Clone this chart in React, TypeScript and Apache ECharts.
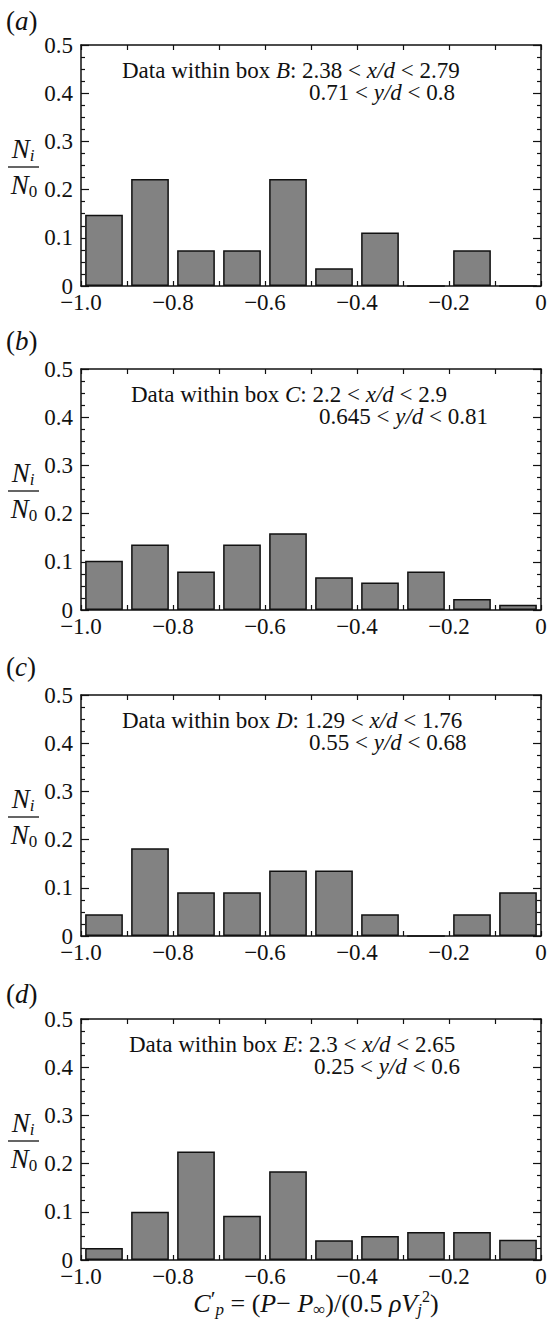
import React, { useEffect, useRef } from "react";
import * as echarts from "echarts";

// Histogram bins of C'_p (bin centres, width 0.1 from -1.0 to 0)
const binCentres = ["-0.95", "-0.85", "-0.75", "-0.65", "-0.55", "-0.45", "-0.35", "-0.25", "-0.15", "-0.05"];

// N_i / N_0 per bin for each measurement box
const boxB = [0.148, 0.222, 0.074, 0.074, 0.222, 0.037, 0.111, 0, 0.074, 0];
const boxC = [0.102, 0.136, 0.08, 0.136, 0.159, 0.068, 0.057, 0.08, 0.023, 0.011];
const boxD = [0.045, 0.182, 0.091, 0.091, 0.136, 0.136, 0.045, 0, 0.045, 0.091];
const boxE = [0.025, 0.1, 0.225, 0.092, 0.184, 0.041, 0.05, 0.058, 0.058, 0.042];

const panelLetters = ["a", "b", "c", "d"];
const boxNames = ["B", "C", "D", "E"];
const xdRanges = [["2.38", "2.79"], ["2.2", "2.9"], ["1.29", "1.76"], ["2.3", "2.65"]];
const ydRanges = [["0.71", "0.8"], ["0.645", "0.81"], ["0.55", "0.68"], ["0.25", "0.6"]];

// Layout (pixels)
const GRID_LEFT = 81;
const GRID_WIDTH = 460;
const GRID_HEIGHT = 241;
const gridTops = [45, 369, 695, 1019];
const letterY = [21, 341, 667, 994];
const noteLeft1 = [122, 131, 122, 129];
const noteLeft2 = [309, 319, 309, 314];

const FONT = '"Liberation Serif", "Times New Roman", serif';
const INK = "#111";
const TICK_FONT = 23;

const fmtX = (v: number) => {
  if (Math.abs(v) < 1e-9) return "0";
  return "\u2212" + Math.abs(v).toFixed(1);
};
const fmtY = (v: number) => (Math.abs(v) < 1e-9 ? "0" : v.toFixed(1));

export default function App() {
  const ref = useRef<HTMLDivElement>(null);

  useEffect(() => {
    if (!ref.current) return;
    const chart = echarts.init(ref.current, undefined, { renderer: "svg" });
    const datasets = [boxB, boxC, boxD, boxE];

    const grids: any[] = [];
    const xAxes: any[] = [];
    const yAxes: any[] = [];
    const series: any[] = [];
    const graphics: any[] = [];

    const lineStyle = { color: INK, width: 1.5 };
    const tickStyle = { color: INK, width: 1.2 };

    datasets.forEach((values, i) => {
      const top = gridTops[i];
      grids.push({ left: GRID_LEFT, top, width: GRID_WIDTH, height: GRID_HEIGHT, containLabel: false });

      // hidden category axis carrying the bins
      xAxes.push({
        type: "category",
        gridIndex: i,
        data: binCentres,
        boundaryGap: true,
        show: false,
      });
      // visible value axis, bottom
      xAxes.push({
        type: "value",
        gridIndex: i,
        position: "bottom",
        min: -1,
        max: 0,
        interval: 0.2,
        axisLine: { show: true, onZero: false, lineStyle },
        axisTick: { show: true, inside: true, length: 5, lineStyle: tickStyle },
        minorTick: { show: true, splitNumber: 2, length: 5, lineStyle: tickStyle },
        splitLine: { show: false },
        axisLabel: {
          show: true,
          formatter: fmtX,
          fontFamily: FONT,
          fontSize: TICK_FONT,
          lineHeight: 16,
          color: INK,
          margin: 8,
          showMinLabel: true,
          showMaxLabel: true,
        },
      });
      // frame, top
      xAxes.push({
        type: "value",
        gridIndex: i,
        position: "top",
        min: -1,
        max: 0,
        interval: 0.2,
        axisLine: { show: true, onZero: false, lineStyle },
        axisTick: { show: true, inside: true, length: 5, lineStyle: tickStyle },
        minorTick: { show: true, splitNumber: 2, length: 5, lineStyle: tickStyle },
        splitLine: { show: false },
        axisLabel: { show: false },
      });

      const yCommon = {
        type: "value",
        gridIndex: i,
        min: 0,
        max: 0.5,
        interval: 0.1,
        axisLine: { show: true, onZero: false, lineStyle },
        axisTick: { show: true, inside: true, length: 8, lineStyle: tickStyle },
        minorTick: { show: true, splitNumber: 4, length: 4, lineStyle: tickStyle },
        splitLine: { show: false },
      };
      yAxes.push({
        ...yCommon,
        position: "left",
        axisLabel: {
          show: true,
          formatter: fmtY,
          fontFamily: FONT,
          fontSize: TICK_FONT,
          lineHeight: 16,
          color: INK,
          margin: 8,
        },
      });
      yAxes.push({ ...yCommon, position: "right", axisLabel: { show: false } });

      series.push({
        type: "bar",
        xAxisIndex: i * 3,
        yAxisIndex: i * 2,
        data: values,
        barCategoryGap: "18%",
        itemStyle: { color: "#828282", borderColor: INK, borderWidth: 1.5 },
        silent: true,
      });

      // panel letter
      graphics.push({
        type: "text",
        x: 6,
        y: letterY[i],
        style: {
          text: "({i|" + panelLetters[i] + "})",
          font: `27px ${FONT}`,
          fill: INK,
          textVerticalAlign: "middle",
          verticalAlign: "middle",
          rich: { i: { fontStyle: "italic", fontFamily: FONT, fontSize: 27, fill: INK } },
        },
      });

      // y-axis quantity N_i / N_0
      graphics.push({
        type: "text",
        x: 23,
        y: top + 104,
        style: {
          text: "{n|N}{s|i}",
          fill: INK,
          textAlign: "center",
          align: "center",
          textVerticalAlign: "middle",
          verticalAlign: "middle",
          rich: {
            n: { fontStyle: "italic", fontFamily: FONT, fontSize: 27, fill: INK },
            s: { fontStyle: "italic", fontFamily: FONT, fontSize: 17, fill: INK, padding: [12, 0, 0, 0] },
          },
        },
      });
      graphics.push({
        type: "line",
        shape: { x1: 8, y1: top + 122, x2: 39, y2: top + 122 },
        style: { stroke: INK, lineWidth: 1.3 },
      });
      graphics.push({
        type: "text",
        x: 24,
        y: top + 140,
        style: {
          text: "{n|N}{s|0}",
          fill: INK,
          textAlign: "center",
          align: "center",
          textVerticalAlign: "middle",
          verticalAlign: "middle",
          rich: {
            n: { fontStyle: "italic", fontFamily: FONT, fontSize: 27, fill: INK },
            s: { fontFamily: FONT, fontSize: 17, fill: INK, padding: [12, 0, 0, 0] },
          },
        },
      });

      // box description
      const richNote = {
        t: { fontFamily: FONT, fontSize: 23, fill: INK },
        i: { fontFamily: FONT, fontSize: 23, fontStyle: "italic", fill: INK },
      };
      graphics.push({
        type: "text",
        x: noteLeft1[i],
        y: top + 25,
        style: {
          text:
            "{t|Data within box }{i|" + boxNames[i] + "}{t|: " + xdRanges[i][0] + " < }{i|x/d}{t| < " + xdRanges[i][1] + "}",
          fill: INK,
          textVerticalAlign: "middle",
          verticalAlign: "middle",
          rich: richNote,
        },
      });
      graphics.push({
        type: "text",
        x: noteLeft2[i],
        y: top + 47,
        style: {
          text: "{t|" + ydRanges[i][0] + " < }{i|y/d}{t| < " + ydRanges[i][1] + "}",
          fill: INK,
          textVerticalAlign: "middle",
          verticalAlign: "middle",
          rich: richNote,
        },
      });
    });

    // x-axis quantity
    graphics.push({
      type: "text",
      x: 316,
      y: 1303,
      style: {
        text: "{i|C}{sp|\u2032}{sb|p}{t| = (}{i|P}{t|\u2212 }{i|P}{sb0|\u221e}{t|)/(0.5 }{i|\u03c1V}{sb|j}{sp0|2}{t|)}",
        fill: INK,
        textAlign: "center",
        align: "center",
        textVerticalAlign: "middle",
        verticalAlign: "middle",
        rich: {
          t: { fontFamily: FONT, fontSize: 26, fill: INK },
          i: { fontFamily: FONT, fontSize: 26, fontStyle: "italic", fill: INK },
          sp: { fontFamily: FONT, fontSize: 22, fill: INK, padding: [0, 0, 10, 0] },
          sp0: { fontFamily: FONT, fontSize: 16, fill: INK, padding: [0, 0, 14, 0] },
          sb: { fontFamily: FONT, fontSize: 17, fontStyle: "italic", fill: INK, padding: [13, 0, 0, 0] },
          sb0: { fontFamily: FONT, fontSize: 17, fill: INK, padding: [12, 0, 0, 0] },
        },
      },
    });

    chart.setOption({
      animation: false,
      backgroundColor: "#fff",
      grid: grids,
      xAxis: xAxes,
      yAxis: yAxes,
      series,
      graphic: { elements: graphics },
    });

    return () => chart.dispose();
  }, []);

  return <div ref={ref} style={{ position: "absolute", left: 0, top: 0, width: 550, height: 1325 }} />;
}
